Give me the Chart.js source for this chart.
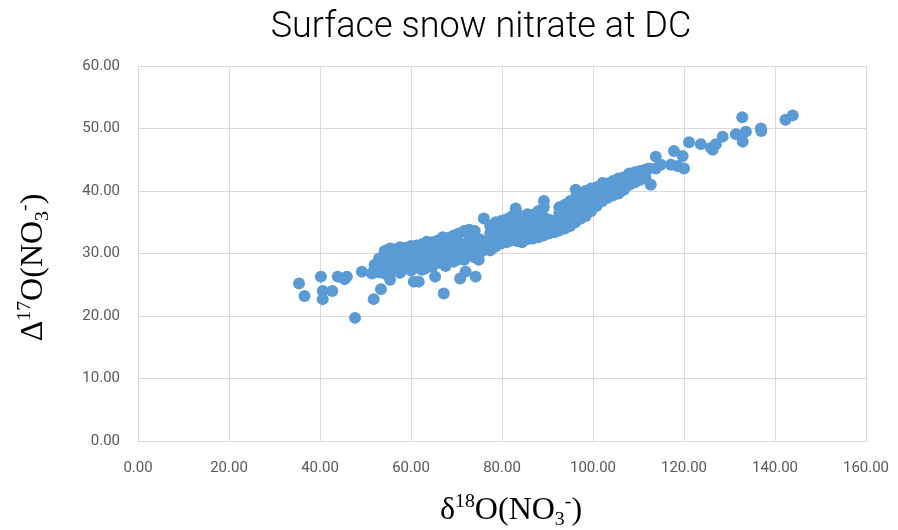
<!DOCTYPE html>
<html>
<head>
<meta charset="utf-8">
<script src="https://cdn.jsdelivr.net/npm/chart.js@4/dist/chart.umd.min.js"></script>
<style>
  html, body { margin: 0; padding: 0; background: #ffffff; }
  #wrap { width: 898px; height: 530px; }
</style>
</head>
<body>
<div id="wrap"><canvas id="c" width="898" height="530"></canvas></div>
<script>
// ---- data: [δ18O, Δ17O] pairs ----
const mainBand = [
  [52.0,27.6],[52.0,28.2],
  [53.0,27.0],[53.0,28.4],[53.0,29.2],
  [54.2,26.8],[54.2,28.0],[54.2,29.4],[54.2,30.4],
  [55.4,26.9],[55.4,28.3],[55.4,29.6],[55.4,30.8],
  [56.5,27.4],[56.5,28.7],[56.5,30.0],[56.5,30.7],
  [57.6,27.1],[57.6,28.1],[57.6,29.4],[57.6,31.0],
  [58.8,27.6],[58.8,28.9],[58.8,30.2],[58.8,30.9],
  [60.0,27.3],[60.0,28.4],[60.0,29.6],[60.0,31.2],
  [61.2,27.8],[61.2,29.1],[61.2,30.4],[61.2,31.3],
  [62.4,27.4],[62.4,28.6],[62.4,29.8],[62.4,31.5],
  [63.5,28.0],[63.5,29.3],[63.5,30.6],[63.5,31.9],
  [64.7,27.9],[64.7,29.0],[64.7,30.2],[64.7,31.8],
  [65.9,28.5],[65.9,29.6],[65.9,30.9],[65.9,32.1],
  [67.0,28.4],[67.0,29.4],[67.0,30.5],[67.0,32.6],
  [68.2,28.9],[68.2,30.1],[68.2,31.4],[68.2,32.5],
  [69.4,28.7],[69.4,29.8],[69.4,31.0],[69.4,32.9],
  [70.5,29.1],[70.5,30.4],[70.5,31.7],[70.5,33.2],
  [71.7,29.0],[71.7,30.2],[71.7,31.5],[71.7,33.6],
  [72.8,29.6],[72.8,30.9],[72.8,32.2],[72.8,33.8],
  [74.0,29.4],[74.0,30.6],[74.0,31.8],[74.0,33.6],
  [75.1,30.1],[75.1,31.6],[75.1,32.3],
  [76.3,30.6],[76.3,31.9],
  [77.4,30.5],[77.4,31.8],[77.4,33.2],[77.4,34.4],
  [78.6,31.1],[78.6,32.5],[78.6,33.8],[78.6,35.0],
  [79.8,31.6],[79.8,32.6],[79.8,33.9],[79.8,35.2],
  [81.0,31.8],[81.0,33.1],[81.0,34.4],[81.0,35.5],
  [82.1,32.1],[82.1,33.5],[82.1,34.7],[82.1,35.9],
  [83.3,32.0],[83.3,33.2],[83.3,34.4],[83.3,36.4],
  [84.4,31.8],[84.4,33.0],[84.4,34.6],[84.4,35.8],
  [85.6,32.3],[85.6,34.0],[85.6,35.3],[85.6,36.3],
  [86.8,32.4],[86.8,33.7],[86.8,35.0],[86.8,36.2],
  [88.0,32.6],[88.0,34.0],[88.0,35.4],[88.0,36.8],
  [89.2,32.9],[89.2,34.3],[89.2,35.8],[89.2,37.4],
  [90.3,33.2],[90.3,34.5],[90.3,35.4],
  [91.5,33.4],[91.5,34.8],[91.5,35.2],
  [92.6,33.7],[92.6,35.1],[92.6,36.4],[92.6,37.4],
  [93.8,34.0],[93.8,35.5],[93.8,36.8],[93.8,37.8],
  [95.0,34.4],[95.0,35.8],[95.0,37.2],[95.0,38.4],
  [96.1,35.0],[96.1,36.4],[96.1,37.8],[96.1,38.9],
  [97.3,35.6],[97.3,36.9],[97.3,38.3],[97.3,39.6],
  [98.4,36.0],[98.4,37.4],[98.4,38.7],[98.4,40.0],
  [99.6,36.8],[99.6,38.0],[99.6,39.2],[99.6,40.4],
  [100.8,37.6],[100.8,38.8],[100.8,39.8],[100.8,40.6],
  [102.0,38.4],[102.0,39.4],[102.0,40.4],[102.0,41.0],
  [103.2,38.9],[103.2,39.9],[103.2,40.8],[103.2,41.2],
  [104.4,39.3],[104.4,40.4],[104.4,41.3],[104.4,41.6],
  [105.6,39.6],[105.6,40.7],[105.6,41.4],[105.6,42.0],
  [106.8,40.2],[106.8,41.2],[106.8,42.2],
  [108.0,41.0],[108.0,41.8],[108.0,42.8],
  [109.2,41.4],[109.2,42.3],[109.2,43.0],
  [110.4,41.8],[110.4,42.6],[110.4,43.2],
  [111.5,42.2],[111.5,42.9],[111.5,43.4]
];
const scatteredPoints = [
  [35.4,25.2],[36.6,23.2],[40.2,26.3],[40.6,24.0],[40.6,22.7],[42.7,24.0],
  [43.9,26.3],[45.4,25.9],[45.9,26.3],[47.7,19.7],[49.2,27.1],[51.4,26.8],
  [51.8,22.7],[53.4,24.3],[55.4,25.8],[57.6,26.9],[60.6,25.5],[61.7,25.5],
  [63.1,27.6],[65.3,26.3],[67.2,23.6],[67.6,28.0],[70.8,26.0],[72.0,27.1],
  [74.2,26.3],[74.9,29.0],[76.0,35.6],[83.0,37.2],[89.2,38.4],[96.2,40.2],
  [102.1,41.3]
];
const highTail = [
  [112.3,43.6],[112.7,41.0],[113.8,43.6],[113.8,45.5],[114.9,44.2],[117.1,44.2],
  [117.8,46.4],[118.6,44.0],[119.7,45.6],[120.0,43.6],[121.1,47.8],[123.7,47.5],
  [125.9,46.9],[126.3,46.6],[127.0,47.5],[128.5,48.7],[131.4,49.1],[132.9,47.9],
  [133.6,49.5],[132.8,51.8],[136.9,50.0],[137.0,49.6],[142.3,51.4],[143.9,52.1]
];
const xTicks = [0, 20, 40, 60, 80, 100, 120, 140, 160];
const yTicks = [0, 10, 20, 30, 40, 50, 60];
const chartTitle = 'Surface snow nitrate at DC';
// axis titles as [text, role] runs: n = normal, sup = superscript, sub = subscript
const xTitleRuns = [['δ','n'],['18','sup'],['O(NO','n'],['3','sub'],['-','sup'],[')','n']];
const yTitleRuns = [['Δ','n'],['17','sup'],['O(NO','n'],['3','sub'],['-','sup'],[')','n']];

const points = mainBand.concat(scatteredPoints, highTail).map(p => ({ x: p[0], y: p[1] }));

const gridColor = '#D9D9D9';
const tickColor = '#595959';
const serif = '"Liberation Serif", "Times New Roman", serif';

function drawRuns(ctx, runs, size) {
  const small = size * 0.62;
  const widths = runs.map(r => {
    ctx.font = (r[1] === 'n' ? size : small) + 'px ' + serif;
    return ctx.measureText(r[0]).width;
  });
  const total = widths.reduce((a, b) => a + b, 0);
  let x = -total / 2;
  runs.forEach((r, i) => {
    ctx.font = (r[1] === 'n' ? size : small) + 'px ' + serif;
    let dy = 0;
    if (r[1] === 'sup') dy = -size * 0.36;
    if (r[1] === 'sub') dy = size * 0.2;
    ctx.fillText(r[0], x, dy);
    x += widths[i];
  });
}

const textPlugin = {
  id: 'textPlugin',
  afterDraw(chart) {
    const ctx = chart.ctx;
    const area = chart.chartArea;
    ctx.save();
    ctx.fillStyle = '#000000';
    ctx.textBaseline = 'alphabetic';
    ctx.textAlign = 'left';
    // chart title
    ctx.font = '300 36px Roboto';
    const tw = ctx.measureText(chartTitle).width;
    ctx.fillText(chartTitle, 481 - tw / 2, 37);
    // x axis title
    ctx.save();
    ctx.translate((area.left + area.right) / 2 + 9, 519);
    drawRuns(ctx, xTitleRuns, 32);
    ctx.restore();
    // y axis title
    ctx.save();
    ctx.translate(42, (area.top + area.bottom) / 2 + 14);
    ctx.rotate(-Math.PI / 2);
    drawRuns(ctx, yTitleRuns, 32);
    ctx.restore();
    ctx.restore();
  }
};

new Chart(document.getElementById('c'), {
  type: 'scatter',
  data: {
    datasets: [{
      label: 'Δ17O',
      data: points,
      backgroundColor: '#5B9BD5',
      borderColor: '#5B9BD5',
      borderWidth: 0,
      pointRadius: 6,
      pointHoverRadius: 6
    }]
  },
  plugins: [textPlugin],
  options: {
    responsive: false,
    animation: false,
    layout: { padding: { left: 0, right: 32, top: 66, bottom: 0 } },
    plugins: {
      legend: { display: false },
      tooltip: { enabled: false },
      title: { display: false }
    },
    scales: {
      x: {
        type: 'linear',
        min: xTicks[0],
        max: xTicks[xTicks.length - 1],
        afterBuildTicks: (s) => { s.ticks = xTicks.map(v => ({ value: v })); },
        afterFit: (s) => { s.height = 89; s.paddingLeft = 0; s.paddingRight = 0; },
        ticks: {
          color: tickColor,
          font: { family: 'Roboto', size: 15 },
          padding: 18,
          maxRotation: 0,
          callback: (v) => Number(v).toFixed(2)
        },
        grid: { color: gridColor, lineWidth: 1, drawTicks: false },
        border: { color: gridColor, width: 1 },
        title: { display: false }
      },
      y: {
        type: 'linear',
        min: yTicks[0],
        max: yTicks[yTicks.length - 1],
        afterBuildTicks: (s) => { s.ticks = yTicks.map(v => ({ value: v })); },
        afterFit: (s) => { s.width = 138; s.paddingTop = 0; s.paddingBottom = 0; },
        ticks: {
          color: tickColor,
          font: { family: 'Roboto', size: 15 },
          padding: 18,
          callback: (v) => Number(v).toFixed(2)
        },
        grid: { color: gridColor, lineWidth: 1, drawTicks: false },
        border: { color: gridColor, width: 1 },
        title: { display: false }
      }
    }
  }
});
</script>
</body>
</html>
